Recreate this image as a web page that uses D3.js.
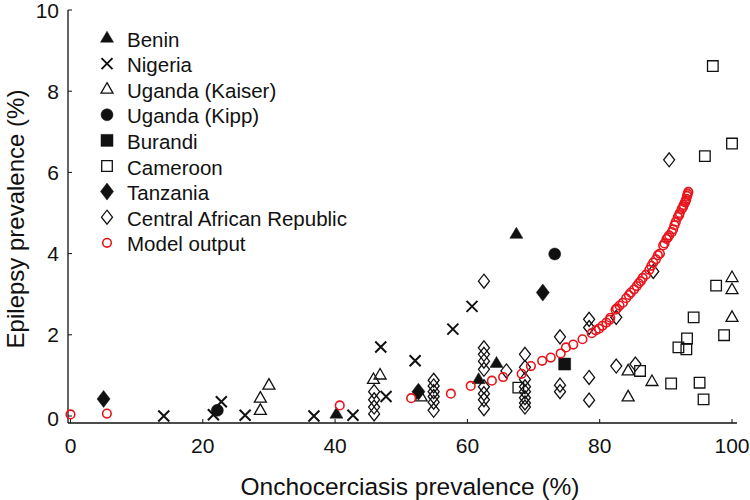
<!DOCTYPE html>
<html><head><meta charset="utf-8">
<script src="https://cdn.jsdelivr.net/npm/d3@7"></script>
<style>body{margin:0;background:#fff}svg{display:block}text{font-family:"Liberation Sans",Arial,sans-serif;fill:#111}</style>
</head><body><svg id="c" width="750" height="500"></svg>
<script>
// ---- data ----
const benin = [[40.2,0.05],[61.7,0.9],[64.4,1.3],[67.4,4.48]];
const nigeria = [[14.1,0],[21.6,0.03],[22.8,0.35],[26.4,0.02],[36.8,0],[42.7,0.02],[46.9,1.70],[47.7,0.48],[52.1,1.36],[57.8,2.14],[60.7,2.70]];
const ugandaKaiser = [[28.7,0.14],[28.7,0.44],[30.0,0.76],[45.8,0.9],[46.8,1.01],[53.0,0.47],[84.3,1.11],[84.3,0.47],[87.9,0.85],[100,3.41],[100,3.11],[100,2.43]];
const ugandaKipp = [[22.2,0.14],[73.2,3.99]];
const burundi = [[74.7,1.28]];
const cameroon = [[67.7,0.70],[86.1,1.11],[90.8,0.80],[91.9,1.69],[93.1,1.64],[93.2,1.91],[94.2,2.43],[95.1,0.82],[95.7,0.41],[95.9,6.40],[97.1,8.62],[97.6,3.21],[98.8,1.99],[100,6.71]];
const tanzania = [[5.0,0.42],[52.6,0.6],[71.4,3.04]];
const car = [[45.9,0.6],[45.9,0.4],[45.9,0.22],[45.9,0.05],
  [54.9,0.88],[54.9,0.74],[54.9,0.6],[54.9,0.48],[54.9,0.34],[54.9,0.14],
  [62.5,3.32],[62.5,1.68],[62.5,1.52],[62.5,1.35],[62.5,1.15],[62.5,0.72],[62.5,0.55],[62.5,0.4],[62.5,0.18],
  [65.9,1.11],
  [68.7,1.52],[68.7,1.2],[68.7,0.9],[68.7,0.72],[68.7,0.6],[68.7,0.45],[68.7,0.32],[68.7,0.22],
  [74.0,1.95],[74.0,0.76],[74.0,0.6],
  [78.4,2.38],[78.4,2.18],[78.4,0.95],[78.4,0.39],
  [82.5,2.43],[82.5,1.23],[85.4,1.28],[88.1,3.56],[90.5,6.31]];
const model = [[0,0.04],[5.5,0.06],[40.7,0.26],[51.5,0.44],[57.5,0.55],[60.5,0.74],[63.7,0.87],[65.4,0.96],[68.2,1.04],[69.6,1.23],[71.3,1.36],[72.6,1.44],[74.1,1.54],[74.9,1.69],[76.0,1.76],[77.4,1.89],[78.8,2.04],[79.4,2.11],[79.9,2.15],[80.4,2.22],[81.0,2.3],[81.5,2.37],[81.6,2.42],[82.4,2.62],[82.6,2.65],[83.0,2.72],[83.5,2.79],[84.0,2.9],[84.4,2.98],[84.7,3.04],[85.2,3.12],[85.6,3.2],[85.9,3.27],[86.2,3.32],[86.5,3.40],[87.0,3.48],[87.5,3.6],[87.8,3.7],[88.1,3.78],[88.5,3.86],[88.8,3.96],[89.1,4.0],[89.6,4.2],[89.8,4.25],[90.1,4.36],[90.3,4.4],[90.5,4.45],[90.9,4.53],[91.1,4.6],[91.3,4.70],[91.5,4.78],[91.8,4.9],[92.0,4.95],[92.1,5.0],[92.4,5.1],[92.6,5.15],[92.7,5.2],[92.9,5.26],[93.0,5.3],[93.1,5.35],[93.2,5.42],[93.3,5.47],[93.4,5.52]];
const xTicks = [0,20,40,60,80,100];
const yTicks = [0,2,4,6,8,10];
const xTitle = "Onchocerciasis prevalence (%)";
const yTitle = "Epilepsy prevalence (%)";

const series = [
  {name:"Benin", data:benin, marker:"triUp", fill:true},
  {name:"Nigeria", data:nigeria, marker:"x", fill:false},
  {name:"Uganda (Kaiser)", data:ugandaKaiser, marker:"triUp", fill:false},
  {name:"Uganda (Kipp)", data:ugandaKipp, marker:"circle", fill:true},
  {name:"Burandi", data:burundi, marker:"square", fill:true},
  {name:"Cameroon", data:cameroon, marker:"square", fill:false},
  {name:"Tanzania", data:tanzania, marker:"diamond", fill:true},
  {name:"Central African Republic", data:car, marker:"diamond", fill:false},
  {name:"Model output", data:model, marker:"ring", fill:false, color:"#e8141b"}
];

// ---- layout ----
const svg = d3.select("#c");
const x = d3.scaleLinear().domain([0,100]).range([70.5,732]);
const y = d3.scaleLinear().domain([0,10]).range([416,10]);
const axX = 68, axY = 423;

function markerPath(type, fill){
  const p = d3.path();
  if(type==="triUp"){ const w=fill?6.5:6, h=fill?11:10.5; p.moveTo(0,-h*0.62); p.lineTo(w,h*0.38); p.lineTo(-w,h*0.38); p.closePath(); }
  else if(type==="x"){ const s=5.5; p.moveTo(-s,-s); p.lineTo(s,s); p.moveTo(-s,s); p.lineTo(s,-s); }
  else if(type==="circle"){ p.arc(0,0,6,0,2*Math.PI); }
  else if(type==="ring"){ p.arc(0,0,4.3,0,2*Math.PI); }
  else if(type==="square"){ const s=fill?6:5.3; p.rect(-s,-s,2*s,2*s); }
  else if(type==="diamond"){ const w=fill?6.5:5.5, h=fill?8.5:7; p.moveTo(0,-h); p.lineTo(w,0); p.lineTo(0,h); p.lineTo(-w,0); p.closePath(); }
  return p.toString();
}
function styleMarker(sel, s){
  const col = s.color || "#111";
  sel.attr("d", markerPath(s.marker, s.fill))
     .attr("fill", s.fill ? col : "none")
     .attr("stroke", col)
     .attr("stroke-width", s.marker==="x" ? 2 : (s.marker==="ring" ? 1.6 : (s.fill?0.5:1.3)))
     .attr("stroke-linejoin","miter");
}

// axes lines
svg.append("line").attr("x1",axX).attr("x2",axX).attr("y1",y(10)).attr("y2",axY).attr("stroke","#111").attr("stroke-width",1.3);
svg.append("line").attr("x1",axX).attr("x2",737).attr("y1",axY).attr("y2",axY).attr("stroke","#111").attr("stroke-width",1.3);
// y ticks
const yt = svg.append("g");
yTicks.forEach(t=>{
  yt.append("line").attr("x1",axX).attr("x2",axX+4).attr("y1",y(t)).attr("y2",y(t)).attr("stroke","#111").attr("stroke-width",1);
  yt.append("text").attr("x",axX-9).attr("y",y(t)+(t===0?2:0)).attr("text-anchor","end").attr("dominant-baseline","central").attr("font-size",21).text(t);
});
const xt = svg.append("g");
xTicks.forEach(t=>{
  xt.append("line").attr("x1",x(t)).attr("x2",x(t)).attr("y1",axY).attr("y2",axY-4).attr("stroke","#111").attr("stroke-width",1);
  xt.append("text").attr("x",x(t)).attr("y",445).attr("text-anchor","middle").attr("dominant-baseline","central").attr("font-size",21).text(t);
});
svg.append("text").attr("x",410).attr("y",486).attr("text-anchor","middle").attr("dominant-baseline","central").attr("font-size",24.5).text(xTitle);
svg.append("text").attr("transform","translate(15,219) rotate(-90)").attr("text-anchor","middle").attr("dominant-baseline","central").attr("font-size",24).text(yTitle);

// points
series.forEach(s=>{
  svg.append("g").selectAll("path").data(s.data).join("path")
    .attr("transform", d=>`translate(${x(d[0])},${y(d[1])})`)
    .call(sel=>styleMarker(sel,s));
});

// legend
const lg = svg.append("g");
series.forEach((s,i)=>{
  const yy = 38 + i*25.6;
  lg.append("path").attr("transform",`translate(107,${yy})`).call(sel=>styleMarker(sel,s));
  lg.append("text").attr("x",127).attr("y",yy+1).attr("dominant-baseline","central").attr("font-size",20.5).text(s.name);
});
</script></body></html>
